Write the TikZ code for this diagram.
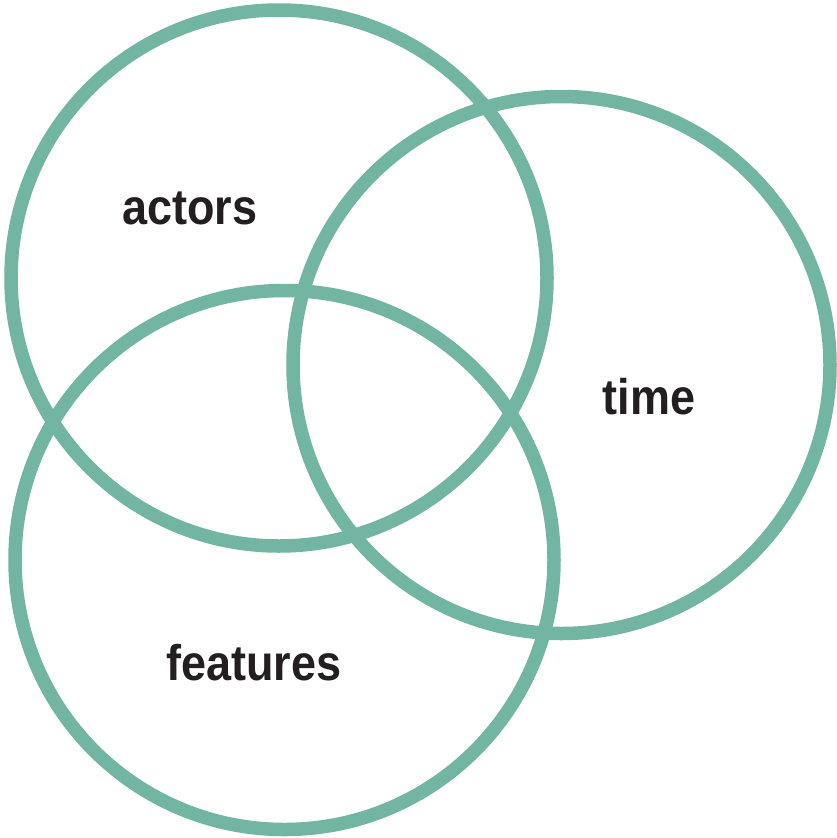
\documentclass[tikz,border=0pt]{standalone}
\usepackage{fontspec}
\setmainfont{Liberation Sans}
\newfontfamily\labelfont[FakeStretch=0.9]{Liberation Sans}
\definecolor{ringgreen}{RGB}{114,181,162}
\definecolor{txt}{RGB}{35,31,32}
\begin{document}
\begin{tikzpicture}[x=1pt,y=-1pt,
  ring/.style={draw=ringgreen,line width=13.5pt},
  lbl/.style={anchor=base,inner sep=0pt,text=txt,font=\labelfont\fontsize{50}{56}\selectfont\bfseries}]
\useasboundingbox (0,0) rectangle (837,838);
\draw[ring] (279,278) circle[radius=268];
\draw[ring] (561.5,365) circle[radius=268.5];
\draw[ring] (284.5,560) circle[radius=269.5];
\node[lbl] (actors) at (190,224) {actors};
\node[lbl] (time) at (649,414) {time};
\node[lbl] (features) at (254,680) {features};
\end{tikzpicture}
\end{document}
